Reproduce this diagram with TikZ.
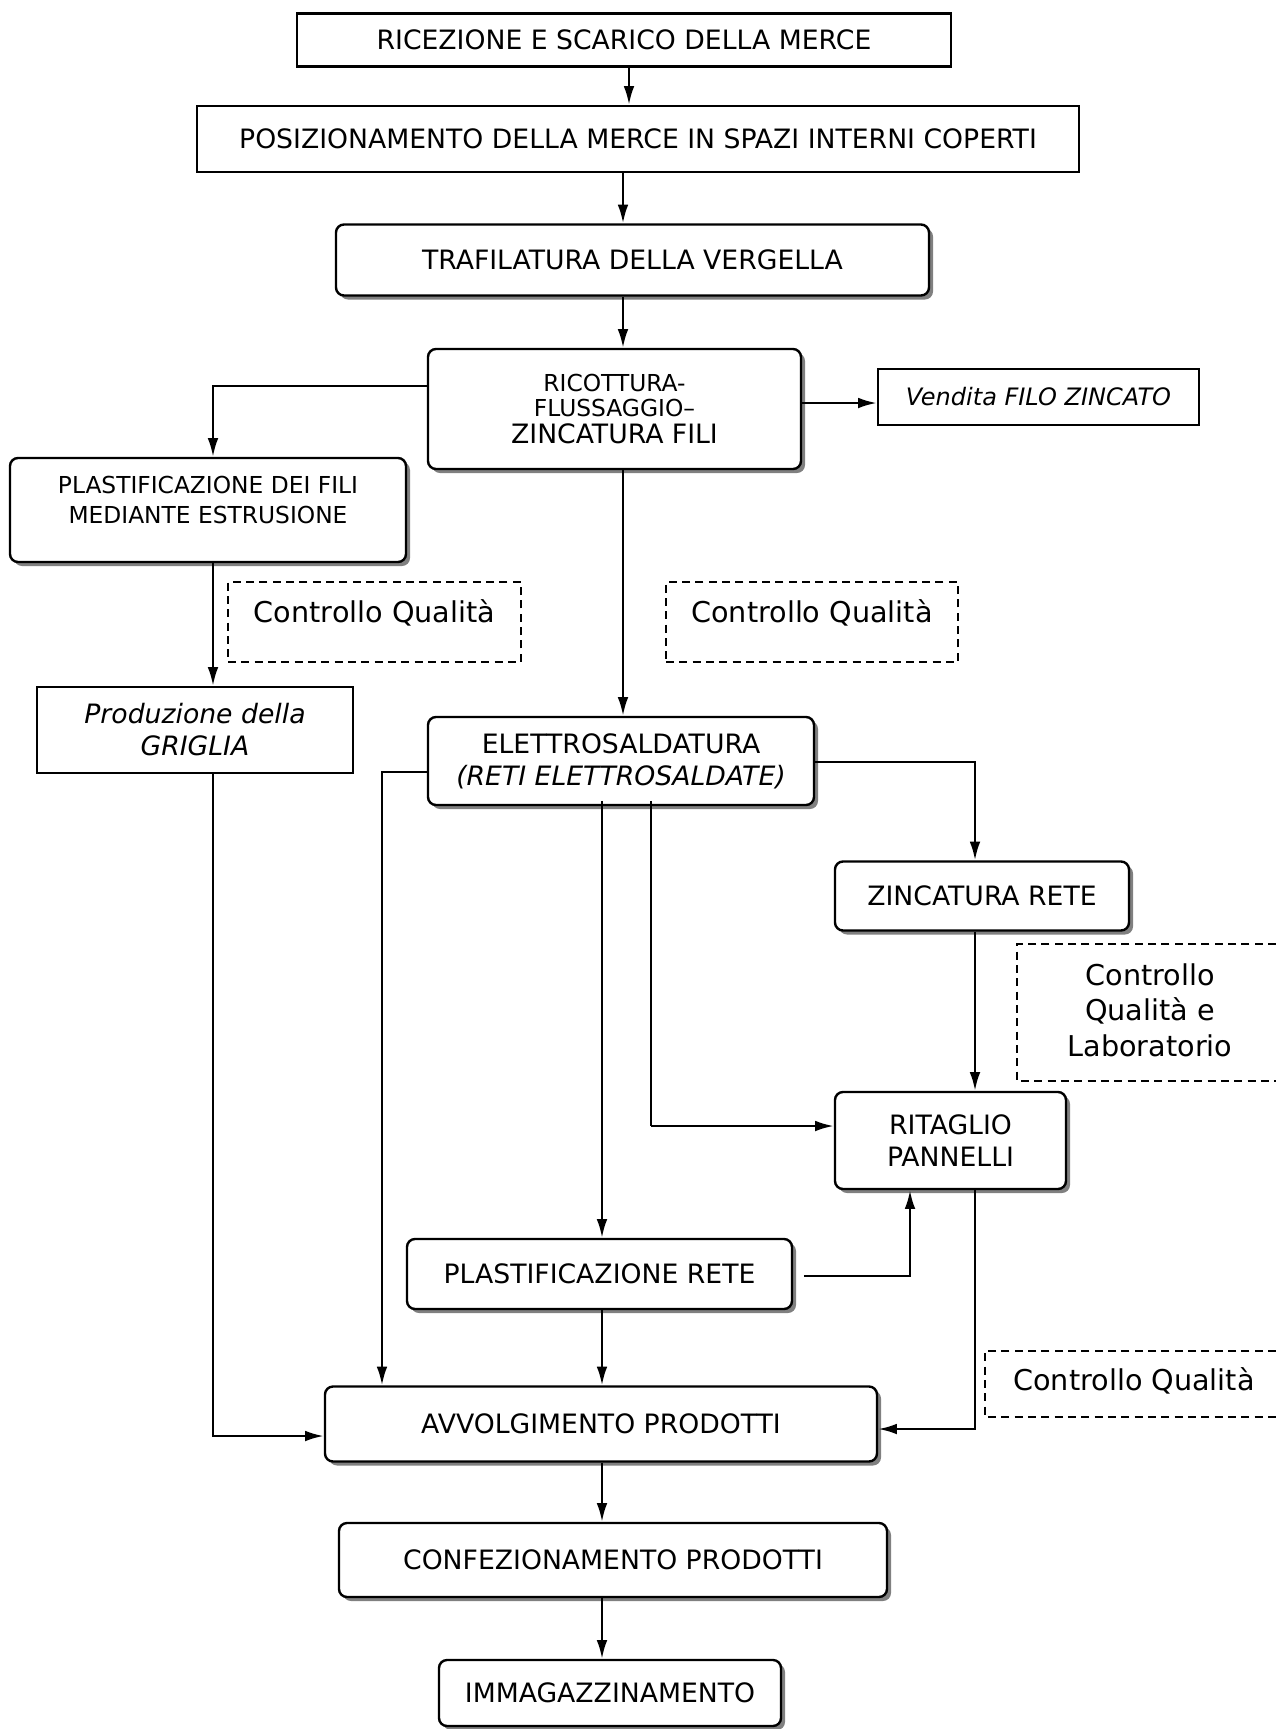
\documentclass[tikz,border=0pt]{standalone}
\usepackage{fontspec}
\setmainfont{DejaVu Sans}
\usetikzlibrary{arrows.meta,shadows}

\tikzset{every picture/.style={line width=1.8pt}}
\tikzset{
  plainbox/.style={draw, rectangle, align=center, inner sep=0pt, font=\fontsize{20}{24}\selectfont},
  roundbox/.style={draw, rectangle, rounded corners=6pt, fill=white, align=center, inner sep=0pt,
    font=\fontsize{20}{24}\selectfont,
    drop shadow={shadow xshift=3pt, shadow yshift=-3pt, fill=black!50, opacity=1}},
  qualbox/.style={draw, line width=1.2pt, dash pattern=on 6pt off 4pt, align=center, inner sep=0pt,
    font=\fontsize{21.5}{26.5}\selectfont},
  qualtext/.style={align=center, inner sep=0pt, font=\fontsize{21.5}{26.5}\selectfont},
  flow/.style={-{Latex[length=14pt,width=8pt]}},
}

\begin{document}
\begin{tikzpicture}[x=0.75pt,y=0.75pt,yscale=-1,xscale=1]
\useasboundingbox (0,0) rectangle (1276,1729);
		%Shape: Rectangle
		\node [plainbox, minimum width=490.5pt, minimum height=39.75pt] (ricezione) at (624,40) {RICEZIONE E SCARICO DELLA MERCE};
		%Shape: Rectangle
		\node [plainbox, minimum width=661.5pt, minimum height=49.5pt] (posiz) at (638,139) {POSIZIONAMENTO DELLA MERCE IN SPAZI INTERNI COPERTI};
		%Shape: Rounded Rect
		\node [roundbox, minimum width=444.75pt, minimum height=53.25pt] (trafila) at (632.5,260) {TRAFILATURA DELLA VERGELLA};
		%Shape: Rounded Rect
		\node [roundbox, minimum width=279.75pt, minimum height=90pt, font=\fontsize{17.5}{18.75}\selectfont] (ricottura) at (614.5,409) {RICOTTURA-\\FLUSSAGGIO–\\[2pt]\fontsize{20}{24}\selectfont ZINCATURA FILI};
		%Shape: Rectangle
		\node [plainbox, minimum width=240.75pt, minimum height=42pt, font=\fontsize{18}{22}\selectfont\itshape] (vendita) at (1038.5,397) {Vendita FILO ZINCATO};
		%Shape: Rounded Rect
		\node [roundbox, minimum width=297pt, minimum height=78pt, text depth=16pt, font=\fontsize{17.5}{22.5}\selectfont] (plastfili) at (208,510) {PLASTIFICAZIONE DEI FILI\\MEDIANTE ESTRUSIONE};
		%Shape: Dashed Rect
		\node [qualbox, minimum width=219.75pt, minimum height=60pt, text depth=16pt] (qual1) at (374.5,622) {Controllo Qualità};
		\node [qualbox, minimum width=219pt, minimum height=60pt, text depth=16pt] (qual2) at (812,622) {Controllo Qualità};
		%Shape: Rectangle
		\node [plainbox, minimum width=237pt, minimum height=64.5pt, font=\fontsize{20}{24}\selectfont\itshape] (griglia) at (195,730) {Produzione della\\GRIGLIA};
		%Shape: Rounded Rect
		\node [roundbox, minimum width=289.5pt, minimum height=66pt] (elettro) at (621,761) {ELETTROSALDATURA\\\itshape (RETI ELETTROSALDATE)};
		%Shape: Rounded Rect
		\node [roundbox, minimum width=220.5pt, minimum height=51.75pt] (zincrete) at (982,896) {ZINCATURA RETE};
		%Shape: Dashed, open at the right
		\draw [line width=1.2pt, dash pattern=on 6pt off 4pt] (1276,944) -- (1017,944) -- (1017,1081) -- (1276,1081);
		\node [qualtext] (qual3) at (1150,1010) {Controllo\\Qualità e\\Laboratorio};
		%Shape: Rounded Rect
		\node [roundbox, minimum width=173.25pt, minimum height=72.75pt] (ritaglio) at (950.5,1140.5) {RITAGLIO\\PANNELLI};
		%Shape: Rounded Rect
		\node [roundbox, minimum width=288.75pt, minimum height=52.5pt] (plastrete) at (599.5,1274) {PLASTIFICAZIONE RETE};
		%Shape: Dashed, open at the right
		\draw [line width=1.2pt, dash pattern=on 6pt off 4pt] (1276,1351) -- (985,1351) -- (985,1417) -- (1276,1417);
		\node [qualtext] (qual4) at (1134,1381) {Controllo Qualità};
		%Shape: Rounded Rect
		\node [roundbox, minimum width=414pt, minimum height=56.25pt] (avvolg) at (601,1424) {AVVOLGIMENTO PRODOTTI};
		\node [roundbox, minimum width=411pt, minimum height=55.5pt] (confez) at (613,1560) {CONFEZIONAMENTO PRODOTTI};
		\node [roundbox, minimum width=256.5pt, minimum height=49.5pt] (immag) at (610,1693) {IMMAGAZZINAMENTO};

		% bends and columns
		\coordinate (jA) at (629,0);
		\coordinate (jB) at (623,0);
		\coordinate (jC) at (213,386);
		\coordinate (jD) at (382,772);
		\coordinate (jE) at (602,0);
		\coordinate (jF) at (651,1126);
		\coordinate (jG) at (975,762);
		\coordinate (jH) at (910,1276);
		\coordinate (jI) at (975,1429);
		\coordinate (jJ) at (213,1436);
		\coordinate (jK) at (0,403);

		% Arrows
		\draw [flow] (ricezione.south -| jA) -- (posiz.north -| jA);
		\draw [flow] (posiz.south -| jB) -- (trafila.north -| jB);
		\draw [flow] (trafila.south -| jB) -- (ricottura.north -| jB);
		\draw [flow] (ricottura.west |- jC) -- (jC) -- (plastfili.north -| jC);
		\draw [flow] (ricottura.east |- jK) -- (vendita.west |- jK);
		\draw [flow] (ricottura.south -| jB) -- (elettro.north -| jB);
		\draw [flow] (plastfili.south -| jC) -- (griglia.north -| jC);
		\draw [flow] (griglia.south -| jC) -- (jJ) -- (avvolg.west |- jJ);
		\draw [flow] (elettro.west |- jD) -- (jD) -- (avvolg.north -| jD);
		\draw [flow] ([yshift=-4pt]elettro.south -| jE) -- (plastrete.north -| jE);
		\draw [line width=0.9pt] ([yshift=-4pt]elettro.south -| jF) -- (jF);
		\draw [flow] (jF) -- (ritaglio.west |- jF);
		\draw [flow] (elettro.east |- jG) -- (jG) -- (zincrete.north -| jG);
		\draw [flow] (zincrete.south -| jG) -- (ritaglio.north -| jG);
		\draw [flow] ([xshift=8pt]plastrete.east |- jH) -- (jH) -- (ritaglio.south -| jH);
		\draw [flow] (ritaglio.south -| jI) -- (jI) -- (avvolg.east |- jI);
		\draw [flow] (plastrete.south -| jE) -- (avvolg.north -| jE);
		\draw [flow] (avvolg.south -| jE) -- (confez.north -| jE);
		\draw [flow] (confez.south -| jE) -- (immag.north -| jE);

\end{tikzpicture}
\end{document}
